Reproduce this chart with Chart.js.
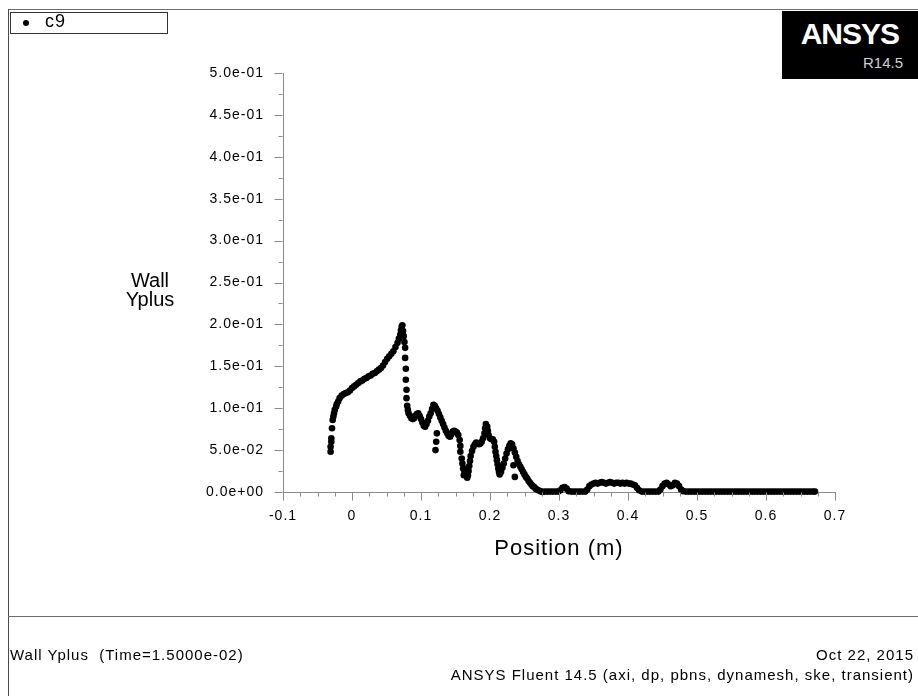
<!DOCTYPE html>
<html><head><meta charset="utf-8">
<script src="https://cdn.jsdelivr.net/npm/chart.js@4.4.1/dist/chart.umd.min.js"></script>
<style>
html,body{margin:0;padding:0;background:#fff;}
#wrap{position:relative;width:918px;height:696px;overflow:hidden;background:#fff;font-family:"Liberation Sans",Arial,sans-serif;color:#000;}
canvas{position:absolute;left:0;top:0;}
.ln{position:absolute;background:#6e6e6e;}
.t{position:absolute;white-space:pre;}
</style></head><body>
<div id="wrap">
<canvas id="c" width="918" height="696"></canvas>
<div class="ln" style="left:8px;top:9px;width:910px;height:1px;"></div>
<div class="ln" style="left:8px;top:9px;width:1px;height:687px;background:#4a4a4a"></div>
<div class="ln" style="left:8px;top:616px;width:910px;height:1px;"></div>
<div style="position:absolute;left:10px;top:12px;width:156px;height:20px;border:1px solid #333;background:#fff;"></div>
<div style="position:absolute;left:23px;top:20px;width:6px;height:6px;border-radius:3px;background:#000;"></div>
<div class="t" style="left:45px;top:11px;font-size:18px;line-height:21px;letter-spacing:1px;">c9</div>
<div style="position:absolute;left:782px;top:11px;width:136px;height:68px;background:#000;"></div>
<div class="t" style="right:19px;top:17px;font-size:30px;line-height:33px;font-weight:bold;color:#fff;letter-spacing:-1px;">ANSYS</div>
<div class="t" style="right:15px;top:54px;font-size:15px;line-height:17px;color:#d0d0d0;">R14.5</div>
<div class="t" style="left:100px;width:100px;text-align:center;top:271px;font-size:20px;line-height:19px;">Wall
Yplus</div>
<div class="t" style="left:10px;top:646px;font-size:15px;line-height:18px;letter-spacing:1px;">Wall Yplus  (Time=1.5000e-02)</div>
<div class="t" style="right:4px;top:646px;font-size:15px;line-height:18px;letter-spacing:1px;text-align:right;">Oct 22, 2015</div>
<div class="t" style="right:4px;top:666px;font-size:15px;line-height:18px;letter-spacing:1px;text-align:right;">ANSYS Fluent 14.5 (axi, dp, pbns, dynamesh, ske, transient)</div>
</div>
<script>
// ---- data ----
const seriesName = 'c9';
const xTickValues = [-0.1, 0, 0.1, 0.2, 0.3, 0.4, 0.5, 0.6, 0.7];
const xTickLabels = ['-0.1', '0', '0.1', '0.2', '0.3', '0.4', '0.5', '0.6', '0.7'];
const yTickValues = [0, 0.05, 0.1, 0.15, 0.2, 0.25, 0.3, 0.35, 0.4, 0.45, 0.5];
const yTickLabels = ['0.0e+00', '5.0e-02', '1.0e-01', '1.5e-01', '2.0e-01', '2.5e-01', '3.0e-01', '3.5e-01', '4.0e-01', '4.5e-01', '5.0e-01'];

// position (m)
const position = [
  -0.031,-0.031,-0.030,-0.030,-0.029,-0.028,-0.027,-0.026,-0.025,-0.023,-0.022,-0.020,-0.018,-0.015,-0.012,-0.009,-0.006,-0.003,
  0.000,0.003,0.006,0.009,0.012,0.015,0.018,0.021,0.024,0.027,0.030,0.033,0.036,0.039,0.042,0.045,0.048,0.051,0.054,0.057,
  0.060,0.063,0.066,0.068,0.070,0.071,0.072,0.073,
  0.074,0.075,0.076,0.077,0.077,0.078,0.078,0.079,0.079,0.080,
  0.081,0.082,0.084,0.086,0.088,0.090,0.092,0.094,0.096,0.098,0.100,0.102,0.104,0.106,0.108,0.110,0.112,0.114,0.116,0.118,
  0.120,0.122,0.124,0.126,0.128,0.130,0.132,0.134,0.136,0.138,0.140,0.142,0.144,0.146,0.148,0.150,0.152,0.154,0.156,0.157,0.157,
  0.123,0.122,0.121,
  0.159,0.160,0.161,0.163,0.165,0.167,0.168,0.169,0.170,0.171,0.172,0.174,0.176,0.178,0.180,0.182,0.184,0.186,0.188,0.190,
  0.192,0.193,0.194,0.196,0.197,0.198,0.200,0.202,0.204,0.206,0.207,0.208,0.209,0.210,0.211,0.212,0.213,0.214,0.216,0.218,
  0.220,0.222,0.224,0.226,0.228,0.230,0.232,0.234,0.236,0.238,0.240,0.242,0.244,0.246,0.248,0.250,0.252,0.254,0.256,0.258,
  0.260,0.262,0.264,0.266,0.268,0.270,0.273,0.276,
  0.162,0.166,0.234,0.236,
  0.279,0.283,0.287,0.291,0.295,0.299,0.302,0.305,0.308,0.311,0.314,0.318,0.322,0.326,0.330,0.334,0.338,
  0.341,0.344,0.347,0.350,0.353,0.356,0.359,0.362,0.365,0.368,0.371,0.374,0.377,0.380,0.383,0.386,0.389,0.392,0.395,0.398,
  0.401,0.404,0.407,0.410,0.413,0.416,0.420,0.424,0.428,0.432,0.436,0.440,0.444,
  0.447,0.450,0.453,0.456,0.459,0.462,0.465,0.468,0.471,0.474,0.477,0.480,
  0.484,0.488,0.492,0.496,0.500,0.504,0.508,0.512,0.516,0.520,0.524,0.528,0.532,0.536,0.540,0.544,0.548,0.552,0.556,0.560,
  0.564,0.568,0.572,0.576,0.580,0.584,0.588,0.592,0.596,0.600,0.604,0.608,0.612,0.616,0.620,0.624,0.628,0.632,0.636,0.640,
  0.644,0.648,0.652,0.656,0.660,0.664,0.668,0.671
];
// wall y+
const wallYplus = [
  0.048,0.054,0.060,0.064,0.076,0.086,0.090,0.094,0.098,0.102,0.105,0.108,0.112,0.115,0.117,0.118,0.119,0.121,
  0.124,0.126,0.128,0.130,0.132,0.133,0.135,0.136,0.138,0.139,0.141,0.142,0.144,0.146,0.148,0.151,0.155,0.159,0.162,0.165,
  0.168,0.173,0.178,0.183,0.188,0.193,0.197,0.199,
  0.192,0.186,0.179,0.172,0.160,0.147,0.134,0.122,0.112,0.103,
  0.098,0.094,0.091,0.088,0.087,0.088,0.091,0.093,0.094,0.091,0.087,0.083,0.079,0.078,0.081,0.085,0.090,0.094,0.099,0.104,
  0.103,0.100,0.097,0.093,0.089,0.085,0.081,0.077,0.073,0.070,0.067,0.066,0.069,0.072,0.073,0.072,0.071,0.068,0.062,0.055,0.048,
  0.070,0.060,0.050,
  0.040,0.034,0.028,0.024,0.021,0.017,0.020,0.025,0.031,0.037,0.043,0.049,0.054,0.057,0.059,0.058,0.057,0.058,0.060,0.064,
  0.070,0.076,0.081,0.078,0.073,0.068,0.064,0.063,0.063,0.060,0.054,0.048,0.043,0.038,0.033,0.028,0.024,0.021,0.024,0.029,
  0.034,0.040,0.046,0.051,0.055,0.058,0.057,0.052,0.047,0.042,0.037,0.033,0.030,0.027,0.024,0.021,0.018,0.016,0.013,0.011,
  0.009,0.007,0.006,0.004,0.003,0.002,0.001,0.000,
  0.020,0.028,0.032,0.018,
  0.0005,0.0005,0.0005,0.0005,0.0005,0.0005,0.002,0.005,0.006,0.004,0.001,0.0005,0.0005,0.0005,0.0005,0.0005,0.0005,
  0.003,0.007,0.009,0.010,0.011,0.010,0.011,0.012,0.011,0.010,0.011,0.012,0.011,0.010,0.011,0.011,0.010,0.011,0.010,0.011,
  0.010,0.010,0.009,0.008,0.005,0.002,0.0005,0.0005,0.0005,0.0005,0.0005,0.0005,0.0005,
  0.003,0.007,0.010,0.011,0.009,0.007,0.008,0.011,0.010,0.007,0.003,0.001,
  0.0005,0.0005,0.0005,0.0005,0.0005,0.0005,0.0005,0.0005,0.0005,0.0005,0.0005,0.0005,0.0005,0.0005,0.0005,0.0005,0.0005,0.0005,0.0005,0.0005,
  0.0005,0.0005,0.0005,0.0005,0.0005,0.0005,0.0005,0.0005,0.0005,0.0005,0.0005,0.0005,0.0005,0.0005,0.0005,0.0005,0.0005,0.0005,0.0005,0.0005,
  0.0005,0.0005,0.0005,0.0005,0.0005,0.0005,0.0005,0.0005
];

const points = position.map((x, i) => ({x: x, y: wallYplus[i]}));
const FONT = '"Liberation Sans", Arial, sans-serif';
const AXIS_COLOR = '#8a8a8a';

const tickMarks = {
  id: 'tickMarks',
  beforeLayout(chart) { chart.ctx.letterSpacing = '1px'; },
  beforeDraw(chart) { chart.ctx.letterSpacing = '1px'; },
  afterDraw(chart) {
    const {ctx, chartArea: a} = chart;
    const xs = chart.scales.x, ys = chart.scales.y;
    ctx.save();
    ctx.strokeStyle = AXIS_COLOR; ctx.lineWidth = 1;
    ctx.beginPath();
    const xb = Math.round(a.bottom) + 0.5;
    for (let i = 0; i <= 32; i++) {
      const px = Math.round(xs.getPixelForValue(xs.min + i * 0.025)) + 0.5;
      const len = (i % 4 === 0) ? 8 : 4;
      ctx.moveTo(px, xb); ctx.lineTo(px, xb + len);
    }
    const yl = Math.round(a.left) - 0.5;
    for (let i = 0; i <= 20; i++) {
      const py = Math.round(ys.getPixelForValue(i * 0.025)) + 0.5;
      const len = (i % 2 === 0) ? 8 : 4;
      ctx.moveTo(yl, py); ctx.lineTo(yl - len, py);
    }
    ctx.stroke();
    ctx.restore();
  }
};

new Chart(document.getElementById('c'), {
  type: 'scatter',
  data: {
    datasets: [{
      label: seriesName,
      data: points,
      showLine: false,
      pointRadius: 3.3,
      pointHoverRadius: 3.3,
      pointBackgroundColor: '#000',
      pointBorderWidth: 0,
      borderColor: '#000',
      clip: false
    }]
  },
  options: {
    responsive: false,
    animation: false,
    devicePixelRatio: 1,
    events: [],
    layout: {padding: {left: 0, top: 73, right: 83, bottom: 134}},
    plugins: {legend: {display: false}, tooltip: {enabled: false}},
    scales: {
      x: {
        type: 'linear', position: 'bottom', min: -0.1, max: 0.7,
        afterBuildTicks: s => { s.ticks = xTickValues.map(v => ({value: v})); },
        afterFit: s => { s.height = 70; },
        ticks: {
          autoSkip: false, maxRotation: 0, padding: 16, color: '#000',
          font: {family: FONT, size: 14},
          callback: (v, i) => xTickLabels[i]
        },
        grid: {display: false, drawTicks: false},
        border: {display: true, color: AXIS_COLOR, width: 1},
        title: {display: true, text: 'Position (m)', color: '#000', font: {family: FONT, size: 22}, padding: {top: 0, bottom: 0}}
      },
      y: {
        type: 'linear', position: 'left', min: 0, max: 0.5,
        afterBuildTicks: s => { s.ticks = yTickValues.map(v => ({value: v})); },
        afterFit: s => { s.width = 283; },
        ticks: {
          autoSkip: false, padding: 19, color: '#000',
          font: {family: FONT, size: 14},
          callback: (v, i) => yTickLabels[i]
        },
        grid: {display: false, drawTicks: false},
        border: {display: true, color: AXIS_COLOR, width: 1}
      }
    }
  },
  plugins: [tickMarks]
});
</script>
</body></html>
